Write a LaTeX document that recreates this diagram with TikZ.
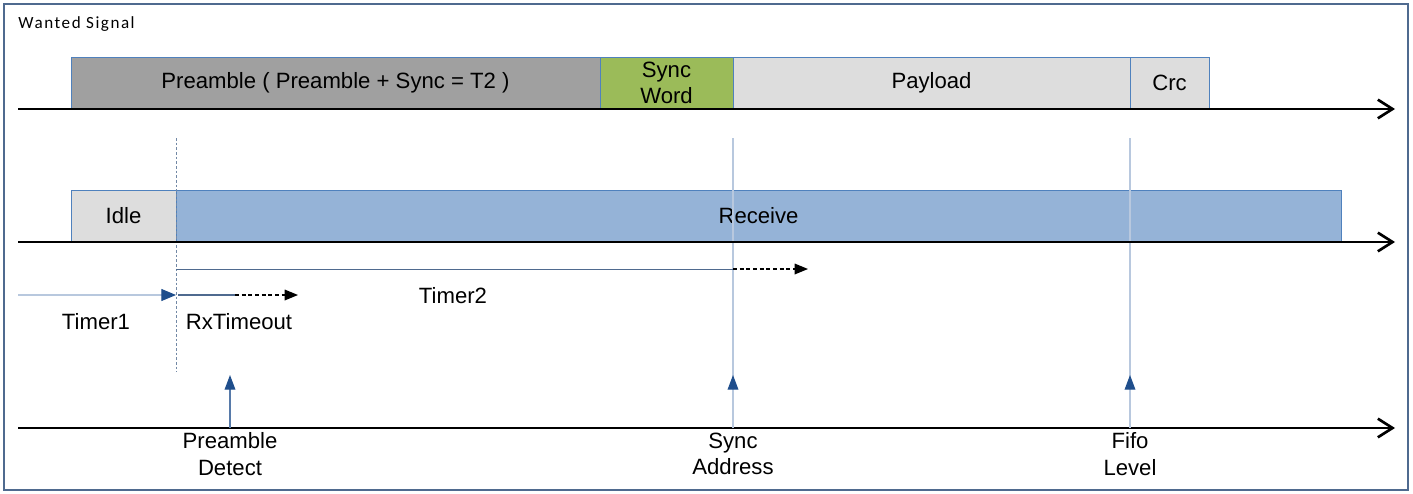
\documentclass[tikz,border=0pt]{standalone}
\usepackage{fontspec}
\setmainfont{Liberation Sans}
\newfontfamily\smallfont[LetterSpace=9]{Carlito}
\usetikzlibrary{arrows.meta,positioning,calc}
\tikzset{every picture/.style={line width=0.75pt}}
\newcommand{\pxu}{0.75pt}
\definecolor{framecol}{HTML}{4F6A8F}
\definecolor{boxblue}{HTML}{4F81BD}
\definecolor{pregray}{HTML}{A0A0A0}
\definecolor{syncgreen}{HTML}{9BBB59}
\definecolor{lightgray}{HTML}{DDDDDD}
\definecolor{rxblue}{HTML}{95B3D7}
\definecolor{guideblue}{HTML}{B8C8DE}
\definecolor{tipblue}{HTML}{1F4E8C}
\tikzset{
  field/.style={draw=boxblue, line width=0.6pt, inner sep=0pt,
    font=\fontsize{16.6}{19}\selectfont},
  axis/.style={line width=2.2pt, -{Straight Barb[length=11pt,width=14pt,line width=2pt]}},
  lab/.style={font=\fontsize{16.6}{20}\selectfont, align=center, inner sep=0pt},
  guide/.style={guideblue, line width=1.1pt},
  timer/.style={framecol, line width=0.6pt},
  tail/.style={densely dashed, line width=0.9pt, -{Triangle[length=10pt,width=8pt]}},
  event/.style={line width=1pt, -{Triangle[length=11pt,width=8pt,color=tipblue]}}
}

\begin{document}
\begin{tikzpicture}[x=\pxu, y=-\pxu]
    \useasboundingbox (0,0) rectangle (1413,493);
    % frame
    \draw[framecol, line width=0.9pt] (4,4) rectangle (1408,490);
    \node[font=\smallfont\fontsize{12.8}{15}\selectfont, anchor=west, inner sep=0pt] (title) at (18,24) {Wanted Signal};

    % wanted signal fields
    \node[field, fill=pregray, minimum width=529*\pxu, minimum height=51*\pxu] (pre) at (335.5,82.5) {Preamble ( Preamble + Sync = T2 )};
    \node[field, fill=syncgreen, minimum width=133*\pxu, minimum height=51*\pxu, align=center] (sync) at (666.5,83) {Sync\\Word};
    \node[field, fill=lightgray, minimum width=397*\pxu, minimum height=51*\pxu] (pay) at (931.5,82.5) {Payload};
    \node[field, fill=lightgray, minimum width=79*\pxu, minimum height=51*\pxu] (crc) at (1169.5,82.5) {Crc};

    % receiver states
    \node[field, fill=lightgray, minimum width=105*\pxu, minimum height=52*\pxu] (idle) at (123.5,216) {Idle};
    \node[field, fill=rxblue, minimum width=1165*\pxu, minimum height=52*\pxu] (rx) at (758.5,216) {Receive};

    % vertical guides
    \draw[framecol!80, line width=0.5pt, dash pattern=on 2pt off 1.5pt] (176,138) -- (176,372);
    \draw[guide] (733,138) -- (733,380);
    \draw[guide] (1130,138) -- (1130,380);

    % time axes
    \coordinate (a1s) at (18,109);
    \coordinate (a1e) at (1395,109);
    \coordinate (a2s) at (18,242);
    \coordinate (a2e) at (1395,242);
    \coordinate (a3s) at (18,428);
    \coordinate (a3e) at (1395,428);
    \draw[axis] (a1s) -- (a1e);
    \draw[axis] (a2s) -- (a2e);
    \draw[axis] (a3s) -- (a3e);

    % timers
    \coordinate (t1s) at (18,295);
    \coordinate (t1e) at (176,295);
    \draw[guide, line width=0.8pt, -{Triangle[length=11pt,width=9pt,color=tipblue]}] (t1s) -- (t1e);
    \node[lab] (timer1) at (96,322) {Timer1};

    \coordinate (rxs) at (178,295);
    \coordinate (rxm) at (235,295);
    \coordinate (rxe) at (298,295);
    \draw[timer, line width=0.8pt] (rxs) -- (rxm);
    \draw[tail] (rxm) -- (rxe);
    \node[lab] (rxto) at (239,322) {RxTimeout};

    \coordinate (t2s) at (176,269);
    \coordinate (t2m) at (733,269);
    \coordinate (t2e) at (808,269);
    \draw[timer] (t2s) -- (t2m);
    \draw[tail] (t2m) -- (t2e);
    \node[lab] (timer2) at (453,296) {Timer2};

    % events
    \draw[event, tipblue!75!white] (230,428) -- (230,375);
    \draw[event, guideblue] (733,428) -- (733,375);
    \draw[event, guideblue] (1130,428) -- (1130,375);
    \node[lab] (pd) at (230,454) {Preamble\\Detect};
    \node[lab] (sa) at (733,454) {Sync\\Address};
    \node[lab] (ff) at (1130,454) {Fifo\\Level};
\end{tikzpicture}
\end{document}
